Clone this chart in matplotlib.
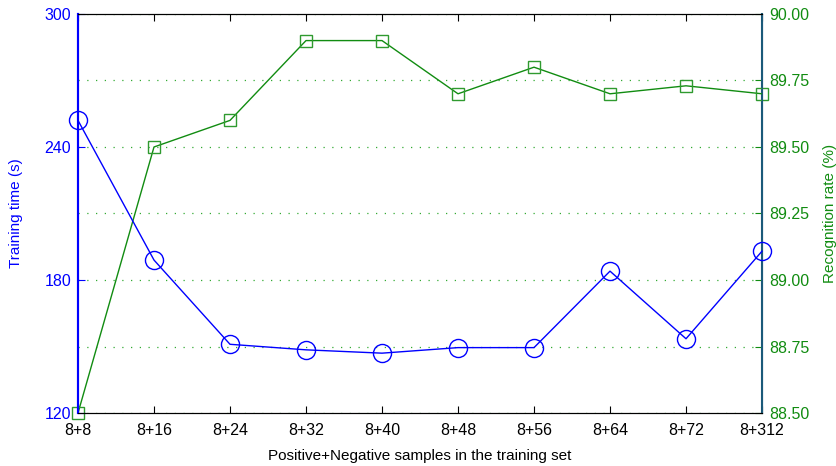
import matplotlib
matplotlib.use('Agg')
import matplotlib.pyplot as plt
import numpy as np

plt.rcParams['font.family'] = ['Liberation Sans', 'DejaVu Sans']

# data
sample_labels = ['8+8', '8+16', '8+24', '8+32', '8+40', '8+48', '8+56', '8+64', '8+72', '8+312']
training_time = [252, 189, 151, 148.5, 147, 149.5, 149.5, 184, 153.5, 193]
recognition_rate = [88.5, 89.5, 89.6, 89.9, 89.9, 89.7, 89.8, 89.7, 89.73, 89.7]

blue = '#0000ff'
green = '#118c11'

fig = plt.figure(figsize=(8.36, 4.66), dpi=100)
ax = fig.add_axes([0.0933, 0.1137, 0.8182, 0.8563])
ax2 = ax.twinx()

x = np.arange(len(sample_labels))

# grid lines on the right axis
rate_ticks = [88.5, 88.75, 89.0, 89.25, 89.5, 89.75, 90.0]
ax2.set_ylim(88.5, 90.0)
ax2.set_yticks(rate_ticks)
ax2.set_yticklabels([f'{v:.2f}' for v in rate_ticks])
ax2.grid(axis='y', linestyle=(0, (1, 6)), color='#33aa33', linewidth=0.9)
ax2.plot(x, recognition_rate, color=green, linewidth=1.0, marker='s', markersize=8,
         markerfacecolor='none', markeredgecolor='#2f9a2f', markeredgewidth=1.0,
         clip_on=False, zorder=3)

ax.plot(x, training_time, color=blue, linewidth=1.0, marker='o', markersize=13,
        markerfacecolor='none', markeredgecolor=blue, markeredgewidth=1.0,
        clip_on=False, zorder=3)
ax.set_zorder(ax2.get_zorder() + 1)
ax.patch.set_visible(False)

ax.set_xlim(0, len(sample_labels) - 1)
ax.set_ylim(120, 300)
ax.set_yticks([120, 180, 240, 300])
ax.set_xticks(x)
ax.set_xticklabels(sample_labels)

ax.tick_params(axis='x', direction='in', top=True, length=5, labelsize=11.5, colors='black', pad=7)
ax.tick_params(axis='y', direction='in', length=5, labelsize=11.5, colors=blue, pad=5)
ax2.tick_params(axis='y', direction='in', length=5, labelsize=11.5, colors=green, pad=5)

ax.set_xlabel('Positive+Negative samples in the training set', fontsize=11, labelpad=8)
ax.set_ylabel('Training time (s)', fontsize=11, color=blue, labelpad=15)
ax2.set_ylabel('Recognition rate (%)', fontsize=11, color=green, labelpad=10)

for a in (ax, ax2):
    a.spines['top'].set_color('black')
    a.spines['bottom'].set_color('black')
ax.spines['left'].set_color(blue)
ax.spines['left'].set_linewidth(1.5)
ax2.spines['left'].set_color(blue)
ax2.spines['left'].set_linewidth(1.5)
ax.spines['right'].set_color('#1b5a7a')
ax2.spines['right'].set_color('#1b5a7a')
ax2.spines['right'].set_linewidth(1.5)

fig.savefig('out.png', dpi=100)
